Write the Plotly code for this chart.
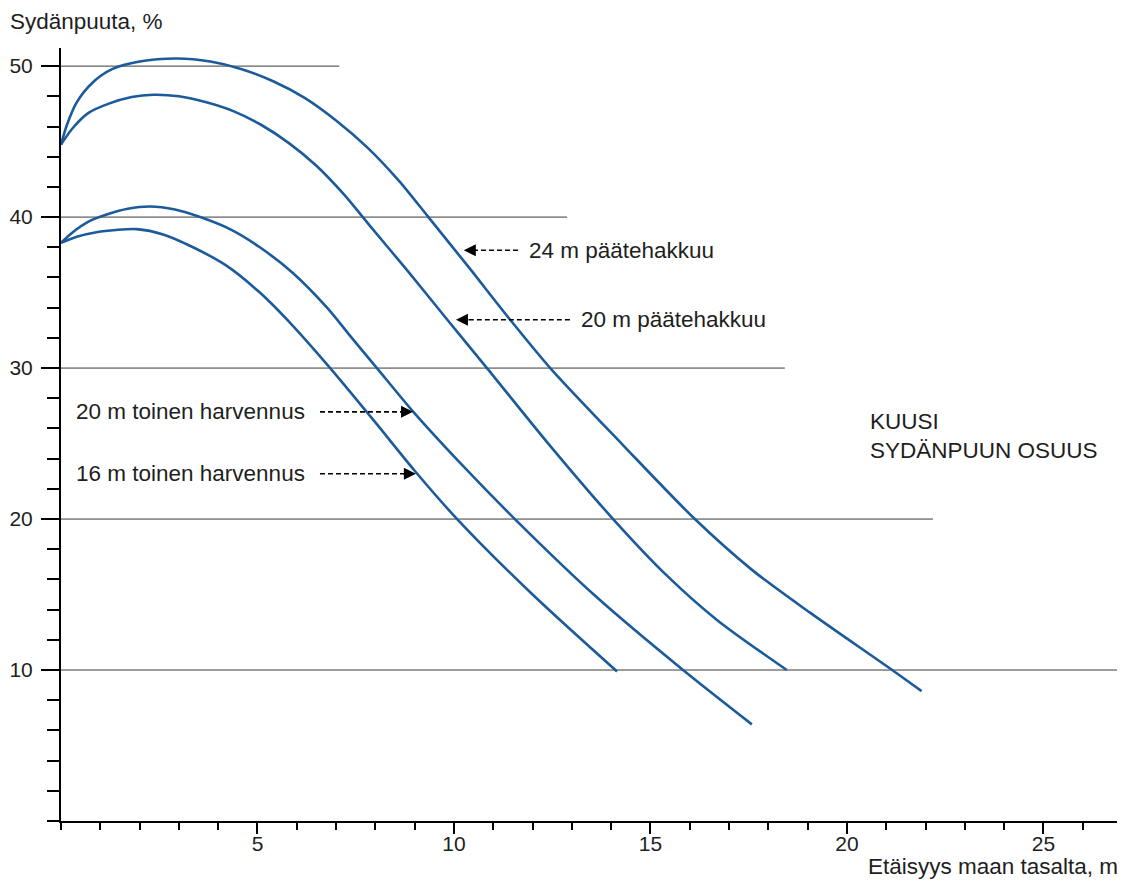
import plotly.graph_objects as go

# Käyrät: etäisyys maan tasalta (m) ja sydänpuun osuus (%)
x_24_paate = [0, 0.15, 0.4, 0.8, 1.3, 2.0, 2.95, 3.8, 4.6, 5.4, 6.2, 7.0, 7.8, 8.6, 9.35,
              10.4, 11.4, 12.45, 14.3, 16.13, 17.6, 19.06, 21.15, 21.9]
y_24_paate = [44.8, 46.1, 47.6, 48.9, 49.8, 50.3, 50.5, 50.3, 49.8, 49.0, 47.9, 46.4, 44.6, 42.4, 40.0,
              36.6, 33.3, 30.0, 24.9, 20.0, 16.6, 13.8, 10.0, 8.6]

x_20_paate = [0, 0.3, 0.7, 1.2, 1.8, 2.35, 3.0, 3.7, 4.4, 5.1, 5.8, 6.5, 7.2, 7.9, 8.8, 9.8,
              10.84, 12.4, 14.05, 15.4, 16.7, 18.47]
y_20_paate = [44.8, 45.9, 46.9, 47.5, 47.95, 48.1, 48.0, 47.6, 47.0, 46.1, 44.9, 43.4, 41.5, 39.3, 36.5, 33.3,
              30.0, 25.0, 20.0, 16.3, 13.3, 10.0]

x_20_harv = [0, 0.3, 0.7, 1.2, 1.7, 2.26, 2.9, 3.54, 4.3, 5.06, 5.9, 6.77, 7.4, 8.04, 9.0, 10.2,
             11.55, 13.6, 15.83, 17.58]
y_20_harv = [38.3, 39.0, 39.7, 40.2, 40.55, 40.7, 40.5, 40.0, 39.2, 38.0, 36.3, 34.0, 32.0, 30.0, 27.0, 23.6,
             20.0, 14.9, 10.0, 6.4]

x_16_harv = [0, 0.4, 0.9, 1.4, 1.93, 2.6, 3.36, 4.2, 5.06, 5.9, 6.85, 8.0, 9.0, 10.08, 12.0, 14.15]
y_16_harv = [38.3, 38.7, 39.0, 39.15, 39.2, 38.85, 38.0, 36.8, 35.0, 32.8, 30.0, 26.4, 23.2, 20.0, 15.0, 9.9]

# Vaakaviivat ja niiden pituudet
grid_levels = [10, 20, 30, 40, 50]
grid_ends = [27, 22.19, 18.42, 12.88, 7.08]

# Nuolet: teksti, kärki (x, y), hännän x
arrow_texts = ["24 m päätehakkuu", "20 m päätehakkuu", "20 m toinen harvennus", "16 m toinen harvennus"]
arrow_tip_x = [10.25, 10.05, 8.96, 9.03]
arrow_tip_y = [37.8, 33.2, 27.1, 23.0]
arrow_tail_x = [11.63, 12.95, 6.59, 6.59]

BLUE = "#1c5b9b"
TEXT = "#1e1e1e"
FONT = "Liberation Sans, Arial, sans-serif"
FS = 22.5

fig = go.Figure()

for lvl, end in zip(grid_levels, grid_ends):
    fig.add_trace(go.Scatter(x=[0, end], y=[lvl, lvl], mode="lines",
                             line=dict(color="#3a3a3a", width=1), hoverinfo="skip"))

for xs, ys in [(x_24_paate, y_24_paate), (x_20_paate, y_20_paate),
               (x_20_harv, y_20_harv), (x_16_harv, y_16_harv)]:
    fig.add_trace(go.Scatter(x=xs, y=ys, mode="lines",
                             line=dict(color=BLUE, width=2.6, shape="spline", smoothing=0.8)))

for txt, tx, ty, tail in zip(arrow_texts, arrow_tip_x, arrow_tip_y, arrow_tail_x):
    direction = 1 if tail > tx else -1
    # katkoviiva
    fig.add_trace(go.Scatter(x=[tail, tx + direction * 0.3], y=[ty, ty], mode="lines",
                             line=dict(color="black", width=1.6, dash="5px,3px"), hoverinfo="skip"))
    # nuolenkärki
    fig.add_annotation(x=tx, y=ty, ax=direction * 14, ay=0, showarrow=True,
                       arrowhead=2, arrowsize=1.6, arrowwidth=1.5, arrowcolor="black", text="")
    if direction > 0:
        fig.add_annotation(x=tail + 0.23, y=ty, text=txt, showarrow=False, xanchor="left",
                           font=dict(size=FS, color=TEXT))
    else:
        fig.add_annotation(x=tail - 0.33, y=ty, text=txt, showarrow=False, xanchor="right",
                           font=dict(size=FS, color=TEXT))

fig.add_annotation(x=20.53, y=25.5, text="KUUSI<br>SYDÄNPUUN OSUUS", showarrow=False,
                   xanchor="left", align="left", font=dict(size=FS, color=TEXT))

fig.add_annotation(xref="paper", yref="paper", x=-0.05, y=1.034, text="Sydänpuuta, %",
                   showarrow=False, xanchor="left", yanchor="middle", font=dict(size=FS, color=TEXT))
fig.add_annotation(xref="paper", yref="paper", x=0.998, y=-0.0595, text="Etäisyys maan tasalta, m",
                   showarrow=False, xanchor="right", yanchor="middle", font=dict(size=FS, color=TEXT))

# sivun oma 8 px reunus huomioitu marginaaleissa
fig.update_layout(
    width=1117, height=874,
    margin=dict(l=53, r=3, t=40, b=61),
    paper_bgcolor="white", plot_bgcolor="white",
    showlegend=False,
    font=dict(family=FONT, size=FS, color=TEXT),
)
fig.update_xaxes(range=[0, 27], showgrid=False, zeroline=False, automargin=False,
                 showline=True, linecolor="black", linewidth=2,
                 tickvals=[5, 10, 15, 20, 25], ticks="outside", ticklen=11, tickwidth=2,
                 tickcolor="black", tickfont=dict(size=21), ticklabelstandoff=-8,
                 minor=dict(dtick=1, ticks="outside", ticklen=7, tickwidth=2, tickcolor="black"))
fig.update_yaxes(range=[0, 51.2], showgrid=False, zeroline=False, automargin=False,
                 showline=True, linecolor="black", linewidth=2,
                 tickvals=grid_levels, ticks="outside", ticklen=18, tickwidth=2,
                 tickcolor="black", ticklabelstandoff=4, tickfont=dict(size=21),
                 minor=dict(dtick=2, ticks="outside", ticklen=12, tickwidth=2, tickcolor="black"))

fig.write_html("out.html")
